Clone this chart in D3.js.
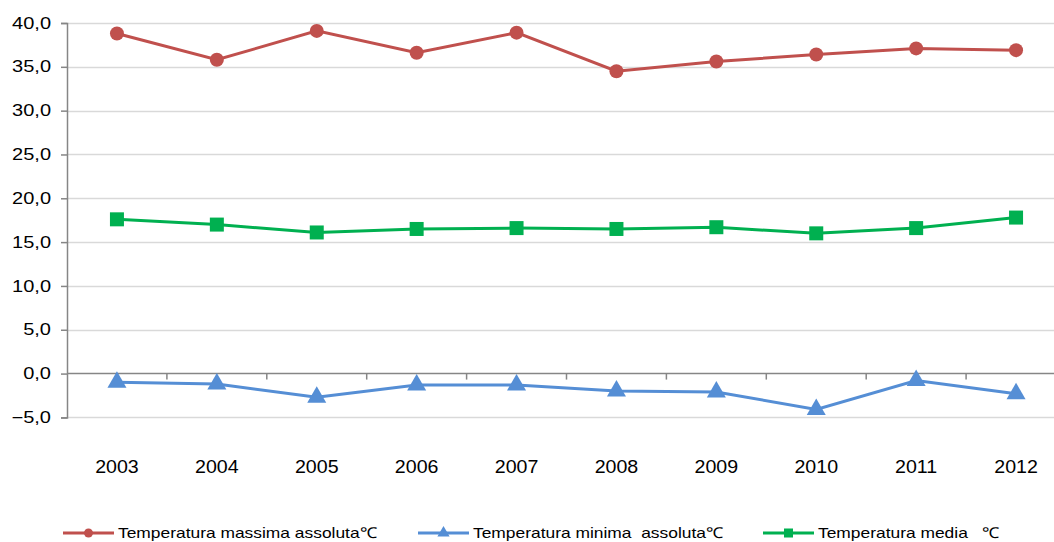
<!DOCTYPE html>
<html>
<head>
<meta charset="utf-8">
<script src="https://cdn.jsdelivr.net/npm/d3@7"></script>
<style>
  body { margin: 0; background: #fff; }
  svg { font-family: "Liberation Sans", Arial, sans-serif; }
  .legend text { white-space: pre; }
</style>
</head>
<body>
<svg id="chart" width="1054" height="542"></svg>
<script>
// chart data
var years = ['2003', '2004', '2005', '2006', '2007', '2008', '2009', '2010', '2011', '2012'];
var tempMax = [38.8, 35.8, 39.1, 36.6, 38.9, 34.5, 35.6, 36.4, 37.1, 36.9];
var tempMin = [-1.0, -1.2, -2.7, -1.3, -1.3, -2.0, -2.1, -4.1, -0.8, -2.3];
var tempMedia = [17.6, 17.0, 16.1, 16.5, 16.6, 16.5, 16.7, 16.0, 16.6, 17.8];
var yTicks = [-5, 0, 5, 10, 15, 20, 25, 30, 35, 40];
var seriesNames = ['Temperatura massima assoluta\u2103', 'Temperatura minima  assoluta\u2103', 'Temperatura media   \u2103'];

var series = [
  { name: seriesNames[0], values: tempMax, color: '#C0504D', marker: 'circle' },
  { name: seriesNames[1], values: tempMin, color: '#558ED5', marker: 'triangle' },
  { name: seriesNames[2], values: tempMedia, color: '#00B050', marker: 'square' }
];

var svg = d3.select('#chart');
var margin = { left: 67, top: 23, right: -12, bottom: 125 };
var width = 1054 - margin.left - margin.right;
var height = 542 - margin.top - margin.bottom;

var g = svg.append('g').attr('transform', 'translate(' + margin.left + ',' + margin.top + ')');

var x = d3.scaleBand().domain(years).range([0, width]);
var y = d3.scaleLinear().domain([-5, 40]).range([height + 0.4, 0]);
var fmt = function(d) { return d3.format('.1f')(d).replace('.', ','); };

// the source text is drawn wider than Liberation Sans, stretch it a bit
var yLabelStretch = 1.25, xLabelStretch = 1.06, legendStretch = 1.16;

// horizontal gridlines
g.append('g').attr('class', 'grid')
  .selectAll('line').data(yTicks.filter(function(d) { return d !== 0; }))
  .join('line')
  .attr('x1', 0).attr('x2', width)
  .attr('y1', function(d) { return Math.round(y(d)) + 0.5; })
  .attr('y2', function(d) { return Math.round(y(d)) + 0.5; })
  .attr('stroke', '#D9D9D9').attr('stroke-width', 1.5);

// y axis
var yAxis = g.append('g')
  .call(d3.axisLeft(y).tickValues(yTicks).tickFormat(fmt).tickSize(6));
yAxis.select('.domain').attr('stroke', '#868686').attr('stroke-width', 1.5);
yAxis.selectAll('.tick line').attr('stroke', '#868686').attr('stroke-width', 1.5);
yAxis.selectAll('text')
  .attr('font-size', 16).attr('fill', '#000')
  .attr('font-family', '"Liberation Sans", Arial, sans-serif')
  .attr('x', -16 / yLabelStretch)
  .attr('transform', 'scale(' + yLabelStretch + ',1)');

// x axis at zero with ticks on band boundaries
var xAxisG = g.append('g').attr('transform', 'translate(0,' + y(0) + ')');
xAxisG.append('line').attr('x1', 0).attr('x2', width)
  .attr('stroke', '#868686').attr('stroke-width', 1.5);
xAxisG.selectAll('line.tk').data(years.slice(1))
  .join('line').attr('class', 'tk')
  .attr('x1', function(d) { return x(d); }).attr('x2', function(d) { return x(d); })
  .attr('y1', 0).attr('y2', 6)
  .attr('stroke', '#868686').attr('stroke-width', 1.5);

g.append('g').selectAll('text').data(years)
  .join('text')
  .attr('transform', function(d) {
    return 'translate(' + (x(d) + x.bandwidth() / 2) + ',' + (y(-5) + 56) + ') scale(' + xLabelStretch + ',1)';
  })
  .attr('text-anchor', 'middle')
  .attr('font-size', 18.5)
  .text(function(d) { return d; });

// marker drawing
function drawMarker(sel, type, color, size) {
  if (type === 'circle') {
    sel.append('circle').attr('r', size / 2).attr('fill', color);
  } else if (type === 'square') {
    sel.append('rect').attr('x', -size / 2).attr('y', -size / 2)
      .attr('width', size).attr('height', size).attr('fill', color);
  } else {
    sel.append('path').attr('d', d3.symbol().type(d3.symbolTriangle).size(size * size * 0.8)()).attr('fill', color);
  }
}

var line = d3.line()
  .x(function(d, i) { return x(years[i]) + x.bandwidth() / 2; })
  .y(function(d) { return y(d); });

series.forEach(function(s) {
  var sg = g.append('g');
  sg.append('path').datum(s.values)
    .attr('d', line).attr('fill', 'none')
    .attr('stroke', s.color).attr('stroke-width', 3);
  sg.selectAll('g.pt').data(s.values).join('g').attr('class', 'pt')
    .attr('transform', function(d, i) {
      return 'translate(' + (x(years[i]) + x.bandwidth() / 2) + ',' + y(d) + ')';
    })
    .each(function() { drawMarker(d3.select(this), s.marker, s.color, 14); });
});

// legend
var legendX = [63, 418, 763];
var legend = svg.append('g').attr('class', 'legend');
series.forEach(function(s, i) {
  var lg = legend.append('g').attr('transform', 'translate(' + legendX[i] + ',533)');
  lg.append('line').attr('x1', 0).attr('x2', 51).attr('stroke', s.color).attr('stroke-width', 3);
  drawMarker(lg.append('g').attr('transform', 'translate(25.5,0)'), s.marker, s.color, 9);
  lg.append('text')
    .attr('transform', 'translate(55,5) scale(' + legendStretch + ',1)')
    .attr('font-size', 15)
    .attr('xml:space', 'preserve').text(s.name);
});
</script>
</body>
</html>
